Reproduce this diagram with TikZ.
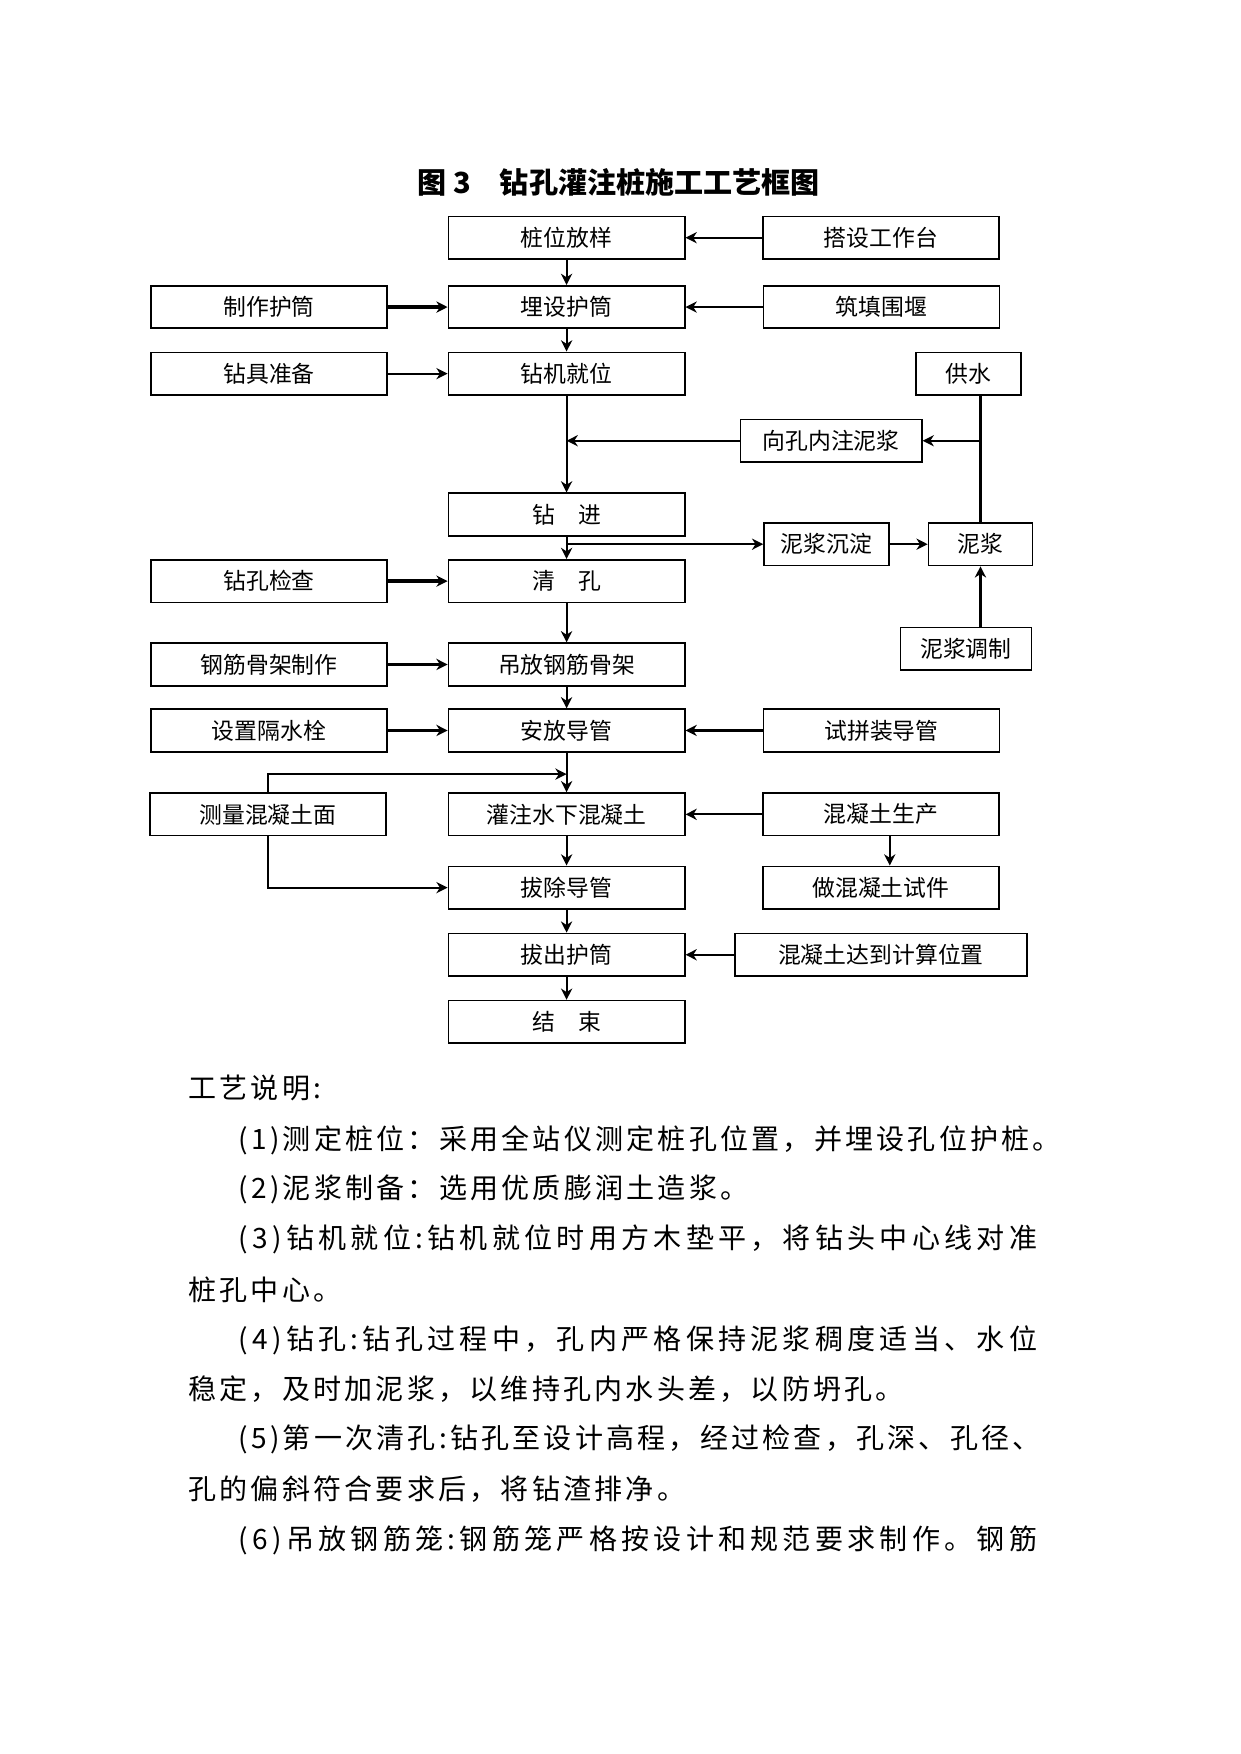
\documentclass[tikz,border=0pt]{standalone}
\usepackage{fontspec}
\setmainfont{Noto Sans CJK SC}
\newfontfamily\bodyfont[LetterSpace=11.5]{Noto Sans CJK SC}
\usetikzlibrary{arrows.meta,positioning}
% spread one full line of the notes to the right margin
\def\justfirst#1{#1\justrest}
\def\justrest#1{\ifx#1\relax\else\hskip 0pt plus 1fil#1\expandafter\justrest\fi}
\newcommand\justline[1]{\makebox[135.2mm][s]{\justfirst#1\relax}}

\begin{document}
\begin{tikzpicture}[x=0.18938mm, y=-0.18938mm,
    box/.style={draw, line width=0.8pt, minimum width=40mm, minimum height=7.2mm,
      inner sep=0pt, font=\fontsize{11}{13}\selectfont},
    flow/.style={-{Stealth[length=1.9mm,width=1.9mm,inset=0.6mm]}, line width=1pt},
    thickflow/.style={flow, line width=2.2pt},
    plain/.style={line width=1pt},
    memo/.style={anchor=west, inner sep=0pt, font=\bodyfont\fontsize{13.5}{16}\selectfont}]
  \useasboundingbox (0,0) rectangle (1109,1568);
  % Title
  \node[font=\bfseries\fontsize{14}{17}\selectfont] (title) at (553,163) {图 3\hspace{1em}钻孔灌注桩施工工艺框图};
  % Main column
  \node[box] (zwfy) at (506.5,212.5) {桩位放样};
  \node[box] (msht) at (506.5,274.5) {埋设护筒};
  \node[box] (zjjw) at (506.5,334) {钻机就位};
  \node[box] (zj) at (506.5,460) {钻\hspace{1em}进};
  \node[box] (qk) at (506.5,519.5) {清\hspace{1em}孔};
  \node[box] (dfgj) at (506.5,594) {吊放钢筋骨架};
  \node[box] (afdg) at (506.5,653) {安放导管};
  \node[box] (gzhnt) at (506.5,728) {灌注水下混凝土};
  \node[box] (bcdg) at (506.5,793.5) {拔除导管};
  \node[box] (bcht) at (506.5,853.5) {拔出护筒};
  \node[box] (js) at (506.5,913.5) {结\hspace{1em}束};
  % Left column
  \node[box] (zzht) at (240.5,274.5) {制作护筒};
  \node[box] (zjzb) at (240.5,334) {钻具准备};
  \node[box] (zkjc) at (240.5,519.5) {钻孔检查};
  \node[box] (gjzz) at (240.5,594) {钢筋骨架制作};
  \node[box] (szgs) at (240.5,653) {设置隔水栓};
  \node[box] (clhnt) at (239.5,728) {测量混凝土面};
  % Right column
  \node[box] (dsgzt) at (787.5,212.5) {搭设工作台};
  \node[box] (ztwy) at (788,274.5) {筑填围堰};
  \node[box, minimum width=17.8mm] (gs) at (866,334) {供水};
  \node[box, minimum width=30.7mm] (xknzn) at (743,394) {向孔内注泥浆};
  \node[box, minimum width=21.2mm] (njcd) at (739,486.5) {泥浆沉淀};
  \node[box, minimum width=17.6mm] (nj) at (876.5,486.5) {泥浆};
  \node[box, minimum width=22.2mm] (njtz) at (863.5,580) {泥浆调制};
  \node[box] (spzdg) at (788,653) {试拼装导管};
  \node[box] (hntsc) at (787.5,728) {混凝土生产};
  \node[box] (zhntsj) at (787.5,793.5) {做混凝土试件};
  \node[box, minimum width=49.4mm] (hntdd) at (787.5,853.5) {混凝土达到计算位置};
  \coordinate (tj) at (506.5,692);
  % Connectors
  \draw[flow] (dsgzt) -- (zwfy);
  \draw[flow] (zwfy) -- (msht);
  \draw[thickflow] (zzht) -- (msht);
  \draw[flow] (ztwy) -- (msht);
  \draw[flow] (msht) -- (zjjw);
  \draw[flow] (zjzb) -- (zjjw);
  \draw[flow] (zjjw) -- (zj);
  \draw[flow] (xknzn.west) -- (xknzn.west -| zjjw.south);
  \draw[plain] (nj.north) -- (nj.north |- gs.south);
  \draw[flow] (nj.north |- xknzn.east) -- (xknzn.east);
  \draw[flow] (zj) -- (qk);
  \draw[flow] (zj.south |- njcd.west) -- (njcd.west);
  \draw[flow] (njcd) -- (nj);
  \draw[flow] (nj.south |- njtz.north) -- (nj.south);
  \draw[thickflow] (zkjc) -- (qk);
  \draw[flow] (qk) -- (dfgj);
  \draw[flow] (gjzz) -- (dfgj);
  \draw[flow] (dfgj) -- (afdg);
  \draw[flow] (szgs) -- (afdg);
  \draw[flow] (spzdg) -- (afdg);
  \draw[flow] (afdg) -- (gzhnt);
  \draw[flow] (clhnt.north) |- (tj);
  \draw[flow] (clhnt.south) |- (bcdg.west);
  \draw[flow] (hntsc) -- (gzhnt);
  \draw[flow] ([xshift=1.5mm]hntsc.south) -- ([xshift=1.5mm]zhntsj.north);
  \draw[flow] (gzhnt) -- (bcdg);
  \draw[flow] (bcdg) -- (bcht);
  \draw[flow] (hntdd) -- (bcht);
  \draw[flow] (bcht) -- (js);
  % Notes
  \node[memo] (t0) at (168,973) {工艺说明:};
  \node[memo] (t1) at (213,1019) {(1)测定桩位：采用全站仪测定桩孔位置，并埋设孔位护桩。};
  \node[memo] (t2) at (213,1063) {(2)泥浆制备：选用优质膨润土造浆。};
  \node[memo] (t3) at (213,1108) {\justline{(3)钻机就位:钻机就位时用方木垫平，将钻头中心线对准}};
  \node[memo] (t4) at (168,1153) {桩孔中心。};
  \node[memo] (t5) at (213,1198) {\justline{(4)钻孔:钻孔过程中，孔内严格保持泥浆稠度适当、水位}};
  \node[memo] (t6) at (168,1242) {稳定，及时加泥浆，以维持孔内水头差，以防坍孔。};
  \node[memo] (t7) at (213,1287) {(5)第一次清孔:钻孔至设计高程，经过检查，孔深、孔径、};
  \node[memo] (t8) at (168,1331) {孔的偏斜符合要求后，将钻渣排净。};
  \node[memo] (t9) at (213,1377) {\justline{(6)吊放钢筋笼:钢筋笼严格按设计和规范要求制作。钢筋}};
\end{tikzpicture}
\end{document}
